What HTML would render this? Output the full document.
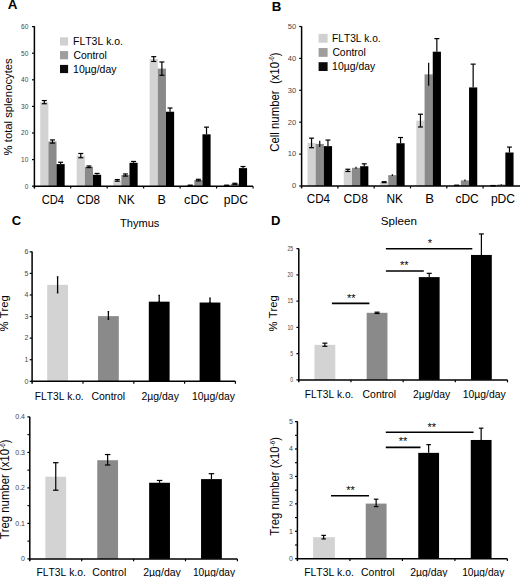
<!DOCTYPE html>
<html><head><meta charset="utf-8"><style>
html,body{margin:0;padding:0;background:#fff;width:520px;height:577px;overflow:hidden}
svg{display:block}
text{font-family:"Liberation Sans",sans-serif;font-kerning:none}
</style></head><body>
<svg width="520" height="577" viewBox="0 0 520 577">
<rect x="0" y="0" width="520" height="577" fill="#fff"/>
<text transform="translate(7.66,8.60) scale(1.1194,1)" font-size="12" font-weight="bold" fill="#000">A</text>
<rect x="40.23" y="102.14" width="8.15" height="84.06" fill="#d3d3d3"/>
<rect x="48.38" y="141.51" width="8.15" height="44.69" fill="#8a8a8a"/>
<rect x="56.53" y="164.12" width="8.15" height="22.08" fill="#000000"/>
<rect x="76.71" y="155.61" width="8.15" height="30.59" fill="#d3d3d3"/>
<rect x="84.86" y="166.78" width="8.15" height="19.42" fill="#8a8a8a"/>
<rect x="93.01" y="174.76" width="8.15" height="11.44" fill="#000000"/>
<rect x="113.19" y="180.35" width="8.15" height="5.85" fill="#d3d3d3"/>
<rect x="121.34" y="175.03" width="8.15" height="11.17" fill="#8a8a8a"/>
<rect x="129.49" y="162.79" width="8.15" height="23.41" fill="#000000"/>
<rect x="149.66" y="59.05" width="8.15" height="127.15" fill="#d3d3d3"/>
<rect x="157.81" y="68.63" width="8.15" height="117.57" fill="#8a8a8a"/>
<rect x="165.97" y="111.72" width="8.15" height="74.48" fill="#000000"/>
<rect x="186.15" y="185.40" width="8.15" height="0.80" fill="#d3d3d3"/>
<rect x="194.30" y="180.08" width="8.15" height="6.12" fill="#8a8a8a"/>
<rect x="202.45" y="134.33" width="8.15" height="51.87" fill="#000000"/>
<rect x="222.62" y="185.40" width="8.15" height="0.80" fill="#d3d3d3"/>
<rect x="230.77" y="183.81" width="8.15" height="2.39" fill="#8a8a8a"/>
<rect x="238.92" y="168.11" width="8.15" height="18.09" fill="#000000"/>
<line x1="44.30" y1="103.74" x2="44.30" y2="100.55" stroke="#000" stroke-width="1.2"/>
<line x1="41.80" y1="100.55" x2="46.80" y2="100.55" stroke="#000" stroke-width="1.2"/>
<line x1="41.80" y1="103.74" x2="46.80" y2="103.74" stroke="#000" stroke-width="1.2"/>
<line x1="52.45" y1="143.11" x2="52.45" y2="139.92" stroke="#000" stroke-width="1.2"/>
<line x1="49.95" y1="139.92" x2="54.95" y2="139.92" stroke="#000" stroke-width="1.2"/>
<line x1="49.95" y1="143.11" x2="54.95" y2="143.11" stroke="#000" stroke-width="1.2"/>
<line x1="60.60" y1="164.12" x2="60.60" y2="162.26" stroke="#000" stroke-width="1.2"/>
<line x1="58.10" y1="162.26" x2="63.10" y2="162.26" stroke="#000" stroke-width="1.2"/>
<line x1="80.78" y1="157.74" x2="80.78" y2="153.48" stroke="#000" stroke-width="1.2"/>
<line x1="78.28" y1="153.48" x2="83.28" y2="153.48" stroke="#000" stroke-width="1.2"/>
<line x1="78.28" y1="157.74" x2="83.28" y2="157.74" stroke="#000" stroke-width="1.2"/>
<line x1="88.93" y1="167.58" x2="88.93" y2="165.98" stroke="#000" stroke-width="1.2"/>
<line x1="86.43" y1="165.98" x2="91.43" y2="165.98" stroke="#000" stroke-width="1.2"/>
<line x1="86.43" y1="167.58" x2="91.43" y2="167.58" stroke="#000" stroke-width="1.2"/>
<line x1="97.08" y1="174.76" x2="97.08" y2="173.43" stroke="#000" stroke-width="1.2"/>
<line x1="94.58" y1="173.43" x2="99.58" y2="173.43" stroke="#000" stroke-width="1.2"/>
<line x1="117.26" y1="181.15" x2="117.26" y2="179.55" stroke="#000" stroke-width="1.2"/>
<line x1="114.76" y1="179.55" x2="119.76" y2="179.55" stroke="#000" stroke-width="1.2"/>
<line x1="114.76" y1="181.15" x2="119.76" y2="181.15" stroke="#000" stroke-width="1.2"/>
<line x1="125.41" y1="176.09" x2="125.41" y2="173.96" stroke="#000" stroke-width="1.2"/>
<line x1="122.91" y1="173.96" x2="127.91" y2="173.96" stroke="#000" stroke-width="1.2"/>
<line x1="122.91" y1="176.09" x2="127.91" y2="176.09" stroke="#000" stroke-width="1.2"/>
<line x1="133.56" y1="162.79" x2="133.56" y2="161.46" stroke="#000" stroke-width="1.2"/>
<line x1="131.06" y1="161.46" x2="136.06" y2="161.46" stroke="#000" stroke-width="1.2"/>
<line x1="153.74" y1="61.45" x2="153.74" y2="56.66" stroke="#000" stroke-width="1.2"/>
<line x1="151.24" y1="56.66" x2="156.24" y2="56.66" stroke="#000" stroke-width="1.2"/>
<line x1="151.24" y1="61.45" x2="156.24" y2="61.45" stroke="#000" stroke-width="1.2"/>
<line x1="161.89" y1="75.28" x2="161.89" y2="61.98" stroke="#000" stroke-width="1.2"/>
<line x1="159.39" y1="61.98" x2="164.39" y2="61.98" stroke="#000" stroke-width="1.2"/>
<line x1="159.39" y1="75.28" x2="164.39" y2="75.28" stroke="#000" stroke-width="1.2"/>
<line x1="170.04" y1="111.72" x2="170.04" y2="108.00" stroke="#000" stroke-width="1.2"/>
<line x1="167.54" y1="108.00" x2="172.54" y2="108.00" stroke="#000" stroke-width="1.2"/>
<line x1="190.22" y1="185.67" x2="190.22" y2="185.14" stroke="#000" stroke-width="1.2"/>
<line x1="187.72" y1="185.14" x2="192.72" y2="185.14" stroke="#000" stroke-width="1.2"/>
<line x1="187.72" y1="185.67" x2="192.72" y2="185.67" stroke="#000" stroke-width="1.2"/>
<line x1="198.37" y1="180.88" x2="198.37" y2="179.28" stroke="#000" stroke-width="1.2"/>
<line x1="195.87" y1="179.28" x2="200.87" y2="179.28" stroke="#000" stroke-width="1.2"/>
<line x1="195.87" y1="180.88" x2="200.87" y2="180.88" stroke="#000" stroke-width="1.2"/>
<line x1="206.52" y1="134.33" x2="206.52" y2="127.15" stroke="#000" stroke-width="1.2"/>
<line x1="204.02" y1="127.15" x2="209.02" y2="127.15" stroke="#000" stroke-width="1.2"/>
<line x1="226.70" y1="185.67" x2="226.70" y2="185.14" stroke="#000" stroke-width="1.2"/>
<line x1="224.20" y1="185.14" x2="229.20" y2="185.14" stroke="#000" stroke-width="1.2"/>
<line x1="224.20" y1="185.67" x2="229.20" y2="185.67" stroke="#000" stroke-width="1.2"/>
<line x1="234.85" y1="184.34" x2="234.85" y2="183.27" stroke="#000" stroke-width="1.2"/>
<line x1="232.35" y1="183.27" x2="237.35" y2="183.27" stroke="#000" stroke-width="1.2"/>
<line x1="232.35" y1="184.34" x2="237.35" y2="184.34" stroke="#000" stroke-width="1.2"/>
<line x1="243.00" y1="168.11" x2="243.00" y2="166.52" stroke="#000" stroke-width="1.2"/>
<line x1="240.50" y1="166.52" x2="245.50" y2="166.52" stroke="#000" stroke-width="1.2"/>
<line x1="34.40" y1="26.20" x2="34.40" y2="188.60" stroke="#000" stroke-width="1.5"/>
<line x1="32.00" y1="186.20" x2="34.40" y2="186.20" stroke="#000" stroke-width="1.2"/>
<text x="28.30" y="188.50" font-size="6.5" text-anchor="end" font-weight="normal" fill="#444">0</text>
<line x1="32.00" y1="159.60" x2="34.40" y2="159.60" stroke="#000" stroke-width="1.2"/>
<text x="28.30" y="161.90" font-size="6.5" text-anchor="end" font-weight="normal" fill="#444">10</text>
<line x1="32.00" y1="133.00" x2="34.40" y2="133.00" stroke="#000" stroke-width="1.2"/>
<text x="28.30" y="135.30" font-size="6.5" text-anchor="end" font-weight="normal" fill="#444">20</text>
<line x1="32.00" y1="106.40" x2="34.40" y2="106.40" stroke="#000" stroke-width="1.2"/>
<text x="28.30" y="108.70" font-size="6.5" text-anchor="end" font-weight="normal" fill="#444">30</text>
<line x1="32.00" y1="79.80" x2="34.40" y2="79.80" stroke="#000" stroke-width="1.2"/>
<text x="28.30" y="82.10" font-size="6.5" text-anchor="end" font-weight="normal" fill="#444">40</text>
<line x1="32.00" y1="53.20" x2="34.40" y2="53.20" stroke="#000" stroke-width="1.2"/>
<text x="28.30" y="55.50" font-size="6.5" text-anchor="end" font-weight="normal" fill="#444">50</text>
<line x1="32.00" y1="26.60" x2="34.40" y2="26.60" stroke="#000" stroke-width="1.2"/>
<text x="28.30" y="28.90" font-size="6.5" text-anchor="end" font-weight="normal" fill="#444">60</text>
<line x1="33.65" y1="186.20" x2="253.00" y2="186.20" stroke="#000" stroke-width="1.5"/>
<line x1="70.69" y1="186.20" x2="70.69" y2="188.60" stroke="#000" stroke-width="1.2"/>
<line x1="107.17" y1="186.20" x2="107.17" y2="188.60" stroke="#000" stroke-width="1.2"/>
<line x1="143.65" y1="186.20" x2="143.65" y2="188.60" stroke="#000" stroke-width="1.2"/>
<line x1="180.13" y1="186.20" x2="180.13" y2="188.60" stroke="#000" stroke-width="1.2"/>
<line x1="216.61" y1="186.20" x2="216.61" y2="188.60" stroke="#000" stroke-width="1.2"/>
<line x1="253.09" y1="186.20" x2="253.09" y2="188.60" stroke="#000" stroke-width="1.2"/>
<text transform="translate(41.74,203.70) scale(0.9319,1)" font-size="12" fill="#000">CD4</text>
<text transform="translate(76.72,203.70) scale(0.9742,1)" font-size="12" fill="#000">CD8</text>
<text transform="translate(118.01,203.70) scale(0.9974,1)" font-size="12" fill="#000">NK</text>
<text transform="translate(157.46,203.70) scale(1.0485,1)" font-size="12" fill="#000">B</text>
<text transform="translate(184.06,203.70) scale(1.0604,1)" font-size="12" fill="#000">cDC</text>
<text transform="translate(223.81,203.70) scale(1.0158,1)" font-size="12" fill="#000">pDC</text>
<text transform="translate(12.10,155.40) rotate(-90) scale(1.0267,1)" font-size="11.00" fill="#000">% total splenocytes</text>
<rect x="60.00" y="37.30" width="8.10" height="8.20" fill="#d0d0d0"/>
<text transform="translate(73.04,44.90) scale(1.0461,1)" font-size="10" fill="#000">FLT3L k.o.</text>
<rect x="60.00" y="51.10" width="8.10" height="8.20" fill="#9e9e9e"/>
<text transform="translate(73.38,58.70) scale(1.0394,1)" font-size="10" fill="#000">Control</text>
<rect x="60.00" y="64.90" width="8.10" height="8.20" fill="#0a0a0a"/>
<text transform="translate(73.11,72.80) scale(1.0524,1)" font-size="10" fill="#000">10µg/day</text>
<text transform="translate(271.80,10.80) scale(1.1066,1)" font-size="12" font-weight="bold" fill="#000">B</text>
<rect x="307.45" y="142.94" width="8.20" height="43.06" fill="#d3d3d3"/>
<rect x="315.65" y="143.89" width="8.20" height="42.11" fill="#8a8a8a"/>
<rect x="323.85" y="146.12" width="8.20" height="39.88" fill="#000000"/>
<rect x="343.75" y="170.37" width="8.20" height="15.63" fill="#d3d3d3"/>
<rect x="351.95" y="167.82" width="8.20" height="18.18" fill="#8a8a8a"/>
<rect x="360.15" y="166.22" width="8.20" height="19.78" fill="#000000"/>
<rect x="380.05" y="182.17" width="8.20" height="3.83" fill="#d3d3d3"/>
<rect x="388.25" y="175.15" width="8.20" height="10.85" fill="#8a8a8a"/>
<rect x="396.45" y="143.25" width="8.20" height="42.75" fill="#000000"/>
<rect x="416.35" y="120.61" width="8.20" height="65.39" fill="#d3d3d3"/>
<rect x="424.55" y="74.35" width="8.20" height="111.65" fill="#8a8a8a"/>
<rect x="432.75" y="51.70" width="8.20" height="134.30" fill="#000000"/>
<rect x="452.65" y="185.36" width="8.20" height="0.64" fill="#d3d3d3"/>
<rect x="460.85" y="180.42" width="8.20" height="5.58" fill="#8a8a8a"/>
<rect x="469.05" y="87.43" width="8.20" height="98.57" fill="#000000"/>
<rect x="488.95" y="185.68" width="8.20" height="0.32" fill="#d3d3d3"/>
<rect x="497.15" y="184.56" width="8.20" height="1.44" fill="#8a8a8a"/>
<rect x="505.35" y="152.50" width="8.20" height="33.49" fill="#000000"/>
<line x1="311.55" y1="147.72" x2="311.55" y2="138.15" stroke="#000" stroke-width="1.2"/>
<line x1="309.05" y1="138.15" x2="314.05" y2="138.15" stroke="#000" stroke-width="1.2"/>
<line x1="309.05" y1="147.72" x2="314.05" y2="147.72" stroke="#000" stroke-width="1.2"/>
<line x1="319.75" y1="147.08" x2="319.75" y2="140.70" stroke="#000" stroke-width="1.2"/>
<line x1="327.95" y1="146.12" x2="327.95" y2="140.06" stroke="#000" stroke-width="1.2"/>
<line x1="325.45" y1="140.06" x2="330.45" y2="140.06" stroke="#000" stroke-width="1.2"/>
<line x1="347.85" y1="171.49" x2="347.85" y2="169.25" stroke="#000" stroke-width="1.2"/>
<line x1="345.35" y1="169.25" x2="350.35" y2="169.25" stroke="#000" stroke-width="1.2"/>
<line x1="345.35" y1="171.49" x2="350.35" y2="171.49" stroke="#000" stroke-width="1.2"/>
<line x1="356.05" y1="168.77" x2="356.05" y2="166.86" stroke="#000" stroke-width="1.2"/>
<line x1="364.25" y1="166.22" x2="364.25" y2="163.83" stroke="#000" stroke-width="1.2"/>
<line x1="361.75" y1="163.83" x2="366.75" y2="163.83" stroke="#000" stroke-width="1.2"/>
<line x1="384.15" y1="182.65" x2="384.15" y2="181.69" stroke="#000" stroke-width="1.2"/>
<line x1="381.65" y1="181.69" x2="386.65" y2="181.69" stroke="#000" stroke-width="1.2"/>
<line x1="381.65" y1="182.65" x2="386.65" y2="182.65" stroke="#000" stroke-width="1.2"/>
<line x1="392.35" y1="176.11" x2="392.35" y2="174.20" stroke="#000" stroke-width="1.2"/>
<line x1="400.55" y1="143.25" x2="400.55" y2="137.51" stroke="#000" stroke-width="1.2"/>
<line x1="398.05" y1="137.51" x2="403.05" y2="137.51" stroke="#000" stroke-width="1.2"/>
<line x1="420.45" y1="126.98" x2="420.45" y2="114.22" stroke="#000" stroke-width="1.2"/>
<line x1="417.95" y1="114.22" x2="422.95" y2="114.22" stroke="#000" stroke-width="1.2"/>
<line x1="417.95" y1="126.98" x2="422.95" y2="126.98" stroke="#000" stroke-width="1.2"/>
<line x1="428.65" y1="85.83" x2="428.65" y2="62.87" stroke="#000" stroke-width="1.2"/>
<line x1="436.85" y1="51.70" x2="436.85" y2="38.62" stroke="#000" stroke-width="1.2"/>
<line x1="434.35" y1="38.62" x2="439.35" y2="38.62" stroke="#000" stroke-width="1.2"/>
<line x1="456.75" y1="185.52" x2="456.75" y2="185.20" stroke="#000" stroke-width="1.2"/>
<line x1="454.25" y1="185.20" x2="459.25" y2="185.20" stroke="#000" stroke-width="1.2"/>
<line x1="454.25" y1="185.52" x2="459.25" y2="185.52" stroke="#000" stroke-width="1.2"/>
<line x1="464.95" y1="181.22" x2="464.95" y2="179.62" stroke="#000" stroke-width="1.2"/>
<line x1="473.15" y1="87.43" x2="473.15" y2="64.14" stroke="#000" stroke-width="1.2"/>
<line x1="470.65" y1="64.14" x2="475.65" y2="64.14" stroke="#000" stroke-width="1.2"/>
<line x1="493.05" y1="185.84" x2="493.05" y2="185.52" stroke="#000" stroke-width="1.2"/>
<line x1="490.55" y1="185.52" x2="495.55" y2="185.52" stroke="#000" stroke-width="1.2"/>
<line x1="490.55" y1="185.84" x2="495.55" y2="185.84" stroke="#000" stroke-width="1.2"/>
<line x1="501.25" y1="184.88" x2="501.25" y2="184.25" stroke="#000" stroke-width="1.2"/>
<line x1="509.45" y1="152.50" x2="509.45" y2="147.08" stroke="#000" stroke-width="1.2"/>
<line x1="506.95" y1="147.08" x2="511.95" y2="147.08" stroke="#000" stroke-width="1.2"/>
<line x1="301.60" y1="26.30" x2="301.60" y2="188.40" stroke="#000" stroke-width="1.5"/>
<line x1="299.20" y1="186.00" x2="301.60" y2="186.00" stroke="#000" stroke-width="1.2"/>
<text x="296.20" y="188.30" font-size="7.5" text-anchor="end" font-weight="normal" fill="#444">0</text>
<line x1="299.20" y1="154.10" x2="301.60" y2="154.10" stroke="#000" stroke-width="1.2"/>
<text x="296.20" y="156.40" font-size="7.5" text-anchor="end" font-weight="normal" fill="#444">10</text>
<line x1="299.20" y1="122.20" x2="301.60" y2="122.20" stroke="#000" stroke-width="1.2"/>
<text x="296.20" y="124.50" font-size="7.5" text-anchor="end" font-weight="normal" fill="#444">20</text>
<line x1="299.20" y1="90.30" x2="301.60" y2="90.30" stroke="#000" stroke-width="1.2"/>
<text x="296.20" y="92.60" font-size="7.5" text-anchor="end" font-weight="normal" fill="#444">30</text>
<line x1="299.20" y1="58.40" x2="301.60" y2="58.40" stroke="#000" stroke-width="1.2"/>
<text x="296.20" y="60.70" font-size="7.5" text-anchor="end" font-weight="normal" fill="#444">40</text>
<line x1="299.20" y1="26.50" x2="301.60" y2="26.50" stroke="#000" stroke-width="1.2"/>
<text x="296.20" y="28.80" font-size="7.5" text-anchor="end" font-weight="normal" fill="#444">50</text>
<line x1="300.85" y1="186.00" x2="520.00" y2="186.00" stroke="#000" stroke-width="1.5"/>
<line x1="337.90" y1="186.00" x2="337.90" y2="188.40" stroke="#000" stroke-width="1.2"/>
<line x1="374.20" y1="186.00" x2="374.20" y2="188.40" stroke="#000" stroke-width="1.2"/>
<line x1="410.50" y1="186.00" x2="410.50" y2="188.40" stroke="#000" stroke-width="1.2"/>
<line x1="446.80" y1="186.00" x2="446.80" y2="188.40" stroke="#000" stroke-width="1.2"/>
<line x1="483.10" y1="186.00" x2="483.10" y2="188.40" stroke="#000" stroke-width="1.2"/>
<text transform="translate(306.71,203.30) scale(0.9753,1)" font-size="12" fill="#000">CD4</text>
<text transform="translate(343.59,203.30) scale(1.0135,1)" font-size="12" fill="#000">CD8</text>
<text transform="translate(386.52,203.30) scale(0.9910,1)" font-size="12" fill="#000">NK</text>
<text transform="translate(425.22,203.30) scale(1.0955,1)" font-size="12" fill="#000">B</text>
<text transform="translate(455.39,203.30) scale(1.0022,1)" font-size="12" fill="#000">cDC</text>
<text transform="translate(490.91,203.30) scale(1.0070,1)" font-size="12" fill="#000">pDC</text>
<text transform="translate(278.60,151.77) rotate(-90) scale(0.9495,1)" font-size="12.00" fill="#000">Cell number  (x10</text>
<text transform="translate(274.28,61.85) rotate(-90) scale(0.9495,1)" font-size="6.60" fill="#000">-6</text>
<text transform="translate(278.60,56.28) rotate(-90) scale(0.9495,1)" font-size="12.00" fill="#000">)</text>
<rect x="318.60" y="33.90" width="9.00" height="8.80" fill="#d0d0d0"/>
<text transform="translate(332.06,41.70) scale(1.0179,1)" font-size="10" fill="#000">FLT3L k.o.</text>
<rect x="318.60" y="48.05" width="9.00" height="8.80" fill="#9e9e9e"/>
<text transform="translate(332.38,55.70) scale(1.0362,1)" font-size="10" fill="#000">Control</text>
<rect x="318.60" y="62.20" width="9.00" height="8.80" fill="#0a0a0a"/>
<text transform="translate(332.12,69.70) scale(1.0425,1)" font-size="10" fill="#000">10µg/day</text>
<text transform="translate(11.78,225.00) scale(1.0814,1)" font-size="12" font-weight="bold" fill="#000">C</text>
<text transform="translate(119.95,227.00) scale(1.0085,1)" font-size="11" fill="#000">Thymus</text>
<rect x="47.20" y="284.84" width="20.80" height="96.46" fill="#d3d3d3"/>
<rect x="98.00" y="316.13" width="20.80" height="65.17" fill="#8a8a8a"/>
<rect x="148.80" y="301.67" width="20.80" height="79.63" fill="#000000"/>
<rect x="199.60" y="302.53" width="20.80" height="78.77" fill="#000000"/>
<line x1="57.60" y1="292.82" x2="57.60" y2="276.85" stroke="#000" stroke-width="1.3"/>
<line x1="56.85" y1="276.85" x2="58.35" y2="276.85" stroke="#000" stroke-width="1.2"/>
<line x1="56.85" y1="292.82" x2="58.35" y2="292.82" stroke="#000" stroke-width="1.2"/>
<line x1="108.40" y1="319.37" x2="108.40" y2="311.60" stroke="#000" stroke-width="1.3"/>
<line x1="107.65" y1="311.60" x2="109.15" y2="311.60" stroke="#000" stroke-width="1.2"/>
<line x1="107.65" y1="319.37" x2="109.15" y2="319.37" stroke="#000" stroke-width="1.2"/>
<line x1="159.20" y1="301.67" x2="159.20" y2="295.41" stroke="#000" stroke-width="1.3"/>
<line x1="158.45" y1="295.41" x2="159.95" y2="295.41" stroke="#000" stroke-width="1.2"/>
<line x1="158.45" y1="301.67" x2="159.95" y2="301.67" stroke="#000" stroke-width="1.2"/>
<line x1="210.00" y1="302.53" x2="210.00" y2="298.22" stroke="#000" stroke-width="1.3"/>
<line x1="209.25" y1="298.22" x2="210.75" y2="298.22" stroke="#000" stroke-width="1.2"/>
<line x1="209.25" y1="302.53" x2="210.75" y2="302.53" stroke="#000" stroke-width="1.2"/>
<line x1="32.10" y1="251.50" x2="32.10" y2="383.70" stroke="#000" stroke-width="1.5"/>
<line x1="29.70" y1="381.30" x2="32.10" y2="381.30" stroke="#000" stroke-width="1.2"/>
<text x="28.30" y="383.60" font-size="7" text-anchor="end" font-weight="normal" fill="#444">0</text>
<line x1="29.70" y1="359.72" x2="32.10" y2="359.72" stroke="#000" stroke-width="1.2"/>
<text x="28.30" y="362.02" font-size="7" text-anchor="end" font-weight="normal" fill="#444">1</text>
<line x1="29.70" y1="338.14" x2="32.10" y2="338.14" stroke="#000" stroke-width="1.2"/>
<text x="28.30" y="340.44" font-size="7" text-anchor="end" font-weight="normal" fill="#444">2</text>
<line x1="29.70" y1="316.56" x2="32.10" y2="316.56" stroke="#000" stroke-width="1.2"/>
<text x="28.30" y="318.86" font-size="7" text-anchor="end" font-weight="normal" fill="#444">3</text>
<line x1="29.70" y1="294.98" x2="32.10" y2="294.98" stroke="#000" stroke-width="1.2"/>
<text x="28.30" y="297.28" font-size="7" text-anchor="end" font-weight="normal" fill="#444">4</text>
<line x1="29.70" y1="273.40" x2="32.10" y2="273.40" stroke="#000" stroke-width="1.2"/>
<text x="28.30" y="275.70" font-size="7" text-anchor="end" font-weight="normal" fill="#444">5</text>
<line x1="29.70" y1="251.82" x2="32.10" y2="251.82" stroke="#000" stroke-width="1.2"/>
<text x="28.30" y="254.12" font-size="7" text-anchor="end" font-weight="normal" fill="#444">6</text>
<line x1="31.35" y1="381.30" x2="235.40" y2="381.30" stroke="#000" stroke-width="1.5"/>
<line x1="83.00" y1="381.30" x2="83.00" y2="383.70" stroke="#000" stroke-width="1.2"/>
<line x1="133.80" y1="381.30" x2="133.80" y2="383.70" stroke="#000" stroke-width="1.2"/>
<line x1="184.60" y1="381.30" x2="184.60" y2="383.70" stroke="#000" stroke-width="1.2"/>
<line x1="235.40" y1="381.30" x2="235.40" y2="383.70" stroke="#000" stroke-width="1.2"/>
<text transform="translate(34.86,400.20) scale(1.0222,1)" font-size="10" fill="#000">FLT3L k.o.</text>
<text transform="translate(91.48,400.20) scale(1.0459,1)" font-size="10" fill="#000">Control</text>
<text transform="translate(141.48,399.80) scale(1.0468,1)" font-size="10" fill="#000">2µg/day</text>
<text transform="translate(192.02,399.80) scale(1.0400,1)" font-size="10" fill="#000">10µg/day</text>
<text transform="translate(8.00,331.39) rotate(-90) scale(1.0211,1)" font-size="11.00" fill="#000">% Treg</text>
<rect x="45.35" y="476.72" width="20.80" height="82.18" fill="#d3d3d3"/>
<rect x="97.25" y="460.21" width="20.80" height="98.69" fill="#8a8a8a"/>
<rect x="149.15" y="482.75" width="20.80" height="76.15" fill="#000000"/>
<rect x="201.05" y="479.10" width="20.80" height="79.80" fill="#000000"/>
<line x1="55.75" y1="490.21" x2="55.75" y2="462.69" stroke="#000" stroke-width="1.2"/>
<line x1="53.00" y1="462.69" x2="58.50" y2="462.69" stroke="#000" stroke-width="1.2"/>
<line x1="53.00" y1="490.21" x2="58.50" y2="490.21" stroke="#000" stroke-width="1.2"/>
<line x1="107.65" y1="465.00" x2="107.65" y2="454.53" stroke="#000" stroke-width="1.2"/>
<line x1="104.90" y1="454.53" x2="110.40" y2="454.53" stroke="#000" stroke-width="1.2"/>
<line x1="104.90" y1="465.00" x2="110.40" y2="465.00" stroke="#000" stroke-width="1.2"/>
<line x1="159.55" y1="482.75" x2="159.55" y2="480.44" stroke="#000" stroke-width="1.2"/>
<line x1="156.80" y1="480.44" x2="162.30" y2="480.44" stroke="#000" stroke-width="1.2"/>
<line x1="211.45" y1="479.10" x2="211.45" y2="473.70" stroke="#000" stroke-width="1.2"/>
<line x1="208.70" y1="473.70" x2="214.20" y2="473.70" stroke="#000" stroke-width="1.2"/>
<line x1="29.80" y1="416.80" x2="29.80" y2="561.30" stroke="#000" stroke-width="1.5"/>
<line x1="27.40" y1="558.90" x2="29.80" y2="558.90" stroke="#000" stroke-width="1.2"/>
<text x="25.00" y="561.20" font-size="7" text-anchor="end" font-weight="normal" fill="#444">0</text>
<line x1="27.40" y1="523.40" x2="29.80" y2="523.40" stroke="#000" stroke-width="1.2"/>
<text x="25.00" y="525.70" font-size="7" text-anchor="end" font-weight="normal" fill="#444">0.1</text>
<line x1="27.40" y1="487.90" x2="29.80" y2="487.90" stroke="#000" stroke-width="1.2"/>
<text x="25.00" y="490.20" font-size="7" text-anchor="end" font-weight="normal" fill="#444">0.2</text>
<line x1="27.40" y1="452.40" x2="29.80" y2="452.40" stroke="#000" stroke-width="1.2"/>
<text x="25.00" y="454.70" font-size="7" text-anchor="end" font-weight="normal" fill="#444">0.3</text>
<line x1="27.40" y1="416.90" x2="29.80" y2="416.90" stroke="#000" stroke-width="1.2"/>
<text x="25.00" y="419.20" font-size="7" text-anchor="end" font-weight="normal" fill="#444">0.4</text>
<line x1="27.40" y1="541.15" x2="29.80" y2="541.15" stroke="#000" stroke-width="1.1"/>
<line x1="27.40" y1="505.65" x2="29.80" y2="505.65" stroke="#000" stroke-width="1.1"/>
<line x1="27.40" y1="470.15" x2="29.80" y2="470.15" stroke="#000" stroke-width="1.1"/>
<line x1="27.40" y1="434.65" x2="29.80" y2="434.65" stroke="#000" stroke-width="1.1"/>
<line x1="29.05" y1="558.90" x2="237.40" y2="558.90" stroke="#000" stroke-width="1.5"/>
<line x1="81.70" y1="558.90" x2="81.70" y2="561.30" stroke="#000" stroke-width="1.2"/>
<line x1="133.60" y1="558.90" x2="133.60" y2="561.30" stroke="#000" stroke-width="1.2"/>
<line x1="185.50" y1="558.90" x2="185.50" y2="561.30" stroke="#000" stroke-width="1.2"/>
<line x1="237.40" y1="558.90" x2="237.40" y2="561.30" stroke="#000" stroke-width="1.2"/>
<text transform="translate(36.45,576.20) scale(1.0331,1)" font-size="10" fill="#000">FLT3L k.o.</text>
<text transform="translate(92.27,576.20) scale(1.0555,1)" font-size="10" fill="#000">Control</text>
<text transform="translate(143.17,576.20) scale(1.0553,1)" font-size="10" fill="#000">2µg/day</text>
<text transform="translate(192.93,576.20) scale(1.0203,1)" font-size="10" fill="#000">10µg/day</text>
<text transform="translate(9.10,539.26) rotate(-90) scale(0.9480,1)" font-size="12.00" fill="#000">Treg number (x10</text>
<text transform="translate(4.78,448.84) rotate(-90) scale(0.9480,1)" font-size="6.60" fill="#000">-6</text>
<text transform="translate(9.10,443.27) rotate(-90) scale(0.9480,1)" font-size="12.00" fill="#000">)</text>
<text transform="translate(271.12,224.70) scale(1.0884,1)" font-size="12" font-weight="bold" fill="#000">D</text>
<text transform="translate(380.78,224.80) scale(1.0567,1)" font-size="11" fill="#000">Spleen</text>
<rect x="314.49" y="344.83" width="20.80" height="35.07" fill="#d3d3d3"/>
<rect x="366.66" y="312.80" width="20.80" height="67.09" fill="#8a8a8a"/>
<rect x="418.83" y="277.11" width="20.80" height="102.79" fill="#000000"/>
<rect x="471.00" y="254.95" width="20.80" height="124.95" fill="#000000"/>
<line x1="324.88" y1="346.30" x2="324.88" y2="343.15" stroke="#000" stroke-width="1.2"/>
<line x1="322.38" y1="343.15" x2="327.38" y2="343.15" stroke="#000" stroke-width="1.2"/>
<line x1="322.38" y1="346.30" x2="327.38" y2="346.30" stroke="#000" stroke-width="1.2"/>
<line x1="377.06" y1="313.49" x2="377.06" y2="312.17" stroke="#000" stroke-width="1.2"/>
<line x1="374.56" y1="312.17" x2="379.56" y2="312.17" stroke="#000" stroke-width="1.2"/>
<line x1="374.56" y1="313.49" x2="379.56" y2="313.49" stroke="#000" stroke-width="1.2"/>
<line x1="429.23" y1="277.11" x2="429.23" y2="273.32" stroke="#000" stroke-width="1.2"/>
<line x1="426.73" y1="273.32" x2="431.73" y2="273.32" stroke="#000" stroke-width="1.2"/>
<line x1="481.39" y1="254.95" x2="481.39" y2="233.95" stroke="#000" stroke-width="1.2"/>
<line x1="478.89" y1="233.95" x2="483.89" y2="233.95" stroke="#000" stroke-width="1.2"/>
<line x1="298.80" y1="248.50" x2="298.80" y2="382.30" stroke="#000" stroke-width="1.5"/>
<line x1="296.40" y1="379.90" x2="298.80" y2="379.90" stroke="#000" stroke-width="1.2"/>
<text transform="translate(293.20,382.10) scale(0.8,1)" font-size="6.4" text-anchor="end" fill="#444">0</text>
<line x1="296.40" y1="353.65" x2="298.80" y2="353.65" stroke="#000" stroke-width="1.2"/>
<text transform="translate(293.20,355.85) scale(0.8,1)" font-size="6.4" text-anchor="end" fill="#444">5</text>
<line x1="296.40" y1="327.40" x2="298.80" y2="327.40" stroke="#000" stroke-width="1.2"/>
<text transform="translate(293.20,329.60) scale(0.8,1)" font-size="6.4" text-anchor="end" fill="#444">10</text>
<line x1="296.40" y1="301.15" x2="298.80" y2="301.15" stroke="#000" stroke-width="1.2"/>
<text transform="translate(293.20,303.35) scale(0.8,1)" font-size="6.4" text-anchor="end" fill="#444">15</text>
<line x1="296.40" y1="274.90" x2="298.80" y2="274.90" stroke="#000" stroke-width="1.2"/>
<text transform="translate(293.20,277.10) scale(0.8,1)" font-size="6.4" text-anchor="end" fill="#444">20</text>
<line x1="296.40" y1="248.65" x2="298.80" y2="248.65" stroke="#000" stroke-width="1.2"/>
<text transform="translate(293.20,250.85) scale(0.8,1)" font-size="6.4" text-anchor="end" fill="#444">25</text>
<line x1="298.05" y1="379.90" x2="507.48" y2="379.90" stroke="#000" stroke-width="1.5"/>
<line x1="350.97" y1="379.90" x2="350.97" y2="382.30" stroke="#000" stroke-width="1.2"/>
<line x1="403.14" y1="379.90" x2="403.14" y2="382.30" stroke="#000" stroke-width="1.2"/>
<line x1="455.31" y1="379.90" x2="455.31" y2="382.30" stroke="#000" stroke-width="1.2"/>
<line x1="507.48" y1="379.90" x2="507.48" y2="382.30" stroke="#000" stroke-width="1.2"/>
<text transform="translate(304.76,398.10) scale(1.0179,1)" font-size="10" fill="#000">FLT3L k.o.</text>
<text transform="translate(362.58,398.10) scale(1.0426,1)" font-size="10" fill="#000">Control</text>
<text transform="translate(412.98,397.60) scale(1.0383,1)" font-size="10" fill="#000">2µg/day</text>
<text transform="translate(462.72,397.60) scale(1.0400,1)" font-size="10" fill="#000">10µg/day</text>
<text transform="translate(277.30,331.39) rotate(-90) scale(1.0211,1)" font-size="11.00" fill="#000">% Treg</text>
<line x1="331.90" y1="303.40" x2="369.40" y2="303.40" stroke="#000" stroke-width="1.6"/>
<text x="346.96" y="301.56" font-size="11" fill="#000">**</text>
<line x1="385.90" y1="271.00" x2="423.80" y2="271.00" stroke="#000" stroke-width="1.6"/>
<text x="399.96" y="269.36" font-size="11" fill="#000">**</text>
<line x1="385.90" y1="248.70" x2="472.30" y2="248.70" stroke="#000" stroke-width="1.6"/>
<text x="427.75" y="246.76" font-size="11" fill="#000">*</text>
<rect x="313.10" y="537.18" width="21.80" height="21.52" fill="#d3d3d3"/>
<rect x="365.75" y="503.59" width="20.80" height="55.11" fill="#8a8a8a"/>
<rect x="418.25" y="452.86" width="20.80" height="105.84" fill="#000000"/>
<rect x="470.75" y="439.97" width="20.80" height="118.73" fill="#000000"/>
<line x1="323.65" y1="538.96" x2="323.65" y2="535.39" stroke="#000" stroke-width="1.2"/>
<line x1="321.40" y1="535.39" x2="325.90" y2="535.39" stroke="#000" stroke-width="1.2"/>
<line x1="321.40" y1="538.96" x2="325.90" y2="538.96" stroke="#000" stroke-width="1.2"/>
<line x1="376.15" y1="506.60" x2="376.15" y2="499.20" stroke="#000" stroke-width="1.2"/>
<line x1="373.90" y1="499.20" x2="378.40" y2="499.20" stroke="#000" stroke-width="1.2"/>
<line x1="373.90" y1="506.60" x2="378.40" y2="506.60" stroke="#000" stroke-width="1.2"/>
<line x1="428.65" y1="452.86" x2="428.65" y2="444.63" stroke="#000" stroke-width="1.2"/>
<line x1="426.40" y1="444.63" x2="430.90" y2="444.63" stroke="#000" stroke-width="1.2"/>
<line x1="481.15" y1="439.97" x2="481.15" y2="428.18" stroke="#000" stroke-width="1.2"/>
<line x1="478.90" y1="428.18" x2="483.40" y2="428.18" stroke="#000" stroke-width="1.2"/>
<line x1="297.40" y1="421.30" x2="297.40" y2="561.10" stroke="#000" stroke-width="1.5"/>
<line x1="295.00" y1="558.70" x2="297.40" y2="558.70" stroke="#000" stroke-width="1.2"/>
<text x="293.00" y="561.00" font-size="7" text-anchor="end" font-weight="normal" fill="#444">0</text>
<line x1="295.00" y1="531.28" x2="297.40" y2="531.28" stroke="#000" stroke-width="1.2"/>
<text x="293.00" y="533.58" font-size="7" text-anchor="end" font-weight="normal" fill="#444">1</text>
<line x1="295.00" y1="503.86" x2="297.40" y2="503.86" stroke="#000" stroke-width="1.2"/>
<text x="293.00" y="506.16" font-size="7" text-anchor="end" font-weight="normal" fill="#444">2</text>
<line x1="295.00" y1="476.44" x2="297.40" y2="476.44" stroke="#000" stroke-width="1.2"/>
<text x="293.00" y="478.74" font-size="7" text-anchor="end" font-weight="normal" fill="#444">3</text>
<line x1="295.00" y1="449.02" x2="297.40" y2="449.02" stroke="#000" stroke-width="1.2"/>
<text x="293.00" y="451.32" font-size="7" text-anchor="end" font-weight="normal" fill="#444">4</text>
<line x1="295.00" y1="421.60" x2="297.40" y2="421.60" stroke="#000" stroke-width="1.2"/>
<text x="293.00" y="423.90" font-size="7" text-anchor="end" font-weight="normal" fill="#444">5</text>
<line x1="295.00" y1="544.99" x2="297.40" y2="544.99" stroke="#000" stroke-width="1.1"/>
<line x1="295.00" y1="517.57" x2="297.40" y2="517.57" stroke="#000" stroke-width="1.1"/>
<line x1="295.00" y1="490.15" x2="297.40" y2="490.15" stroke="#000" stroke-width="1.1"/>
<line x1="295.00" y1="462.73" x2="297.40" y2="462.73" stroke="#000" stroke-width="1.1"/>
<line x1="295.00" y1="435.31" x2="297.40" y2="435.31" stroke="#000" stroke-width="1.1"/>
<line x1="296.65" y1="558.70" x2="507.40" y2="558.70" stroke="#000" stroke-width="1.5"/>
<line x1="349.90" y1="558.70" x2="349.90" y2="561.10" stroke="#000" stroke-width="1.2"/>
<line x1="402.40" y1="558.70" x2="402.40" y2="561.10" stroke="#000" stroke-width="1.2"/>
<line x1="454.90" y1="558.70" x2="454.90" y2="561.10" stroke="#000" stroke-width="1.2"/>
<line x1="507.40" y1="558.70" x2="507.40" y2="561.10" stroke="#000" stroke-width="1.2"/>
<text transform="translate(304.14,576.20) scale(1.0418,1)" font-size="10" fill="#000">FLT3L k.o.</text>
<text transform="translate(361.08,576.20) scale(1.0426,1)" font-size="10" fill="#000">Control</text>
<text transform="translate(410.18,576.20) scale(1.0440,1)" font-size="10" fill="#000">2µg/day</text>
<text transform="translate(462.13,576.20) scale(1.0203,1)" font-size="10" fill="#000">10µg/day</text>
<text transform="translate(279.00,535.75) rotate(-90) scale(0.9375,1)" font-size="12.00" fill="#000">Treg number (x10</text>
<text transform="translate(274.68,446.34) rotate(-90) scale(0.9375,1)" font-size="6.60" fill="#000">-6</text>
<text transform="translate(279.00,440.84) rotate(-90) scale(0.9375,1)" font-size="12.00" fill="#000">)</text>
<line x1="331.00" y1="495.80" x2="369.00" y2="495.80" stroke="#000" stroke-width="1.6"/>
<text x="346.16" y="493.56" font-size="11" fill="#000">**</text>
<line x1="385.80" y1="447.40" x2="420.50" y2="447.40" stroke="#000" stroke-width="1.6"/>
<text x="398.76" y="445.16" font-size="11" fill="#000">**</text>
<line x1="385.80" y1="432.30" x2="473.60" y2="432.30" stroke="#000" stroke-width="1.6"/>
<text x="427.41" y="430.66" font-size="11" fill="#000">**</text>
</svg>
</body></html>
